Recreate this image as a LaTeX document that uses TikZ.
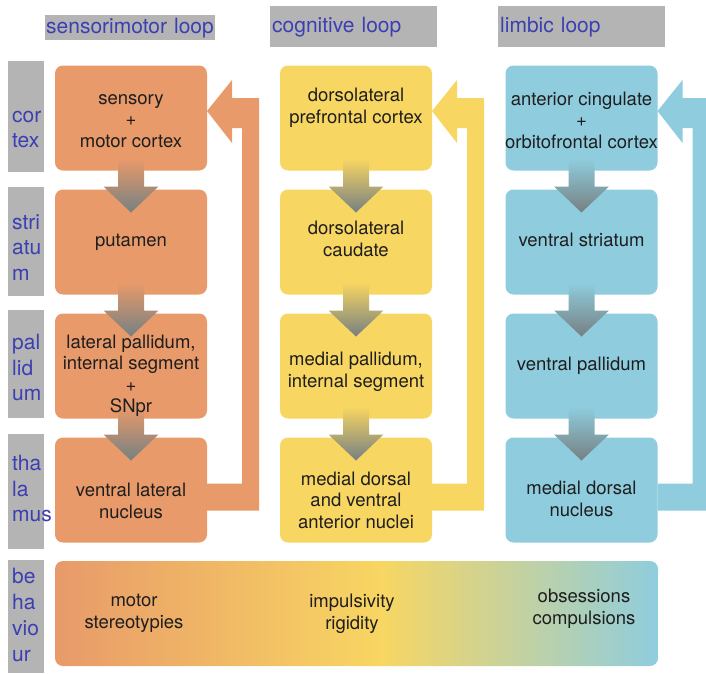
\documentclass[tikz,border=0pt]{standalone}
\usepackage{fontspec}
\setmainfont{TeX Gyre Heros}
\usetikzlibrary{positioning}

\definecolor{smcol}{HTML}{E89A6A}
\definecolor{cgcol}{HTML}{F8D662}
\definecolor{lbcol}{HTML}{8FCDDE}
\definecolor{barcol}{HTML}{B4B4B4}
\definecolor{labcol}{HTML}{3B3FB2}
\definecolor{arrcol}{HTML}{768082}
\definecolor{txtcol}{HTML}{1E1E1E}

\pgfdeclarehorizontalshading{behav}{100bp}{color(0bp)=(smcol); color(25bp)=(smcol); color(52bp)=(cgcol); color(75bp)=(lbcol); color(100bp)=(lbcol)}

% grey step arrow from one box down to the next
\newcommand{\stepdown}[3]{%
  \shade[top color=#3, bottom color=arrcol] ([xshift=-13pt,yshift=12pt]#1.south) -- ([xshift=13pt,yshift=12pt]#1.south)
    -- ([xshift=13pt,yshift=3pt]#2.north) -- ([xshift=27.5pt,yshift=3pt]#2.north) -- ([yshift=-23pt]#2.north)
    -- ([xshift=-27.5pt,yshift=3pt]#2.north) -- ([xshift=-13pt,yshift=3pt]#2.north) -- cycle;}
% broad arrow from thalamus back up to cortex
\newcommand{\loopback}[3]{%
  \fill[#3] ([yshift=7pt]#1.east) -- ++(25,-31) -- ++(0,18) -- ++(27,0)
    |- ([yshift=-20.5pt]#2.east) -- ++(0,-27) -- ++(35,0)
    |- ([xshift=25pt,yshift=-10pt]#1.east) -- ++(0,15) -- cycle;}

\begin{document}
\begin{tikzpicture}[x=1pt, y=-1pt,
      box/.style={rectangle, rounded corners=8pt, minimum width=152pt, minimum height=105pt, inner sep=0pt, outer sep=0pt},
      txt/.style={text=txtcol, font=\fontsize{18.5}{21.5}\selectfont, align=center},
      bar/.style={fill=barcol, anchor=north west, minimum width=36pt, inner sep=0pt, outer sep=0pt},
      lab/.style={text=labcol, font=\fontsize{21}{25.7}\selectfont, align=left, anchor=west, inner sep=0pt},
      head/.style={fill=barcol, text=labcol, font=\fontsize{21}{25}\selectfont, align=left, anchor=north west, inner xsep=2pt, inner ysep=0pt}]

\useasboundingbox (0,0) rectangle (706,673);

% headers
\node[head, text width=168pt, inner xsep=1pt, minimum height=25pt] (hsm) at (45,15) {sensorimotor loop};
\node[head, text width=163pt, minimum height=41pt] (hcg) at (270,6) {cognitive loop};
\node[head, text width=163pt, minimum height=41pt] (hlb) at (498,6) {\raisebox{-3pt}{limbic loop}};

% row labels
\node[bar, minimum height=111pt] (bctx) at (8,61) {};
\node[bar, minimum height=109pt] (bstr) at (8,187) {};
\node[bar, minimum height=108pt] (bpal) at (8,310) {};
\node[bar, minimum height=115pt] (btha) at (8,434) {};
\node[bar, minimum height=113pt] (bbeh) at (8,560) {};
\node[lab] (lctx) at (12,129.5) {cor\\tex};
\node[lab] (lstr) at (12,247.5) {stri\\atu\\m};
\node[lab] (lpal) at (12,367.5) {pal\\lid\\um};
\node[lab] (ltha) at (12,488.5) {tha\\la\\mus};
\node[lab] (lbeh) at (12,615) {be\\ha\\vio\\ur};

% boxes
\node[box, fill=smcol] (sm1) at (131,118) {};
\node[box, fill=smcol, below=19pt of sm1] (sm2) {};
\node[box, fill=smcol, below=19pt of sm2] (sm3) {};
\node[box, fill=smcol, below=19pt of sm3] (sm4) {};
\node[box, fill=cgcol] (cg1) at (356,118) {};
\node[box, fill=cgcol, below=19pt of cg1] (cg2) {};
\node[box, fill=cgcol, below=19pt of cg2] (cg3) {};
\node[box, fill=cgcol, below=19pt of cg3] (cg4) {};
\node[box, fill=lbcol] (lb1) at (581.5,118) {};
\node[box, fill=lbcol, below=19pt of lb1] (lb2) {};
\node[box, fill=lbcol, below=19pt of lb2] (lb3) {};
\node[box, fill=lbcol, below=19pt of lb3] (lb4) {};
\node[box, minimum width=603pt, shading=behav] (beh) at (356.5,613.5) {};

% loops back to cortex
\loopback{sm1}{sm4}{smcol}
\loopback{cg1}{cg4}{cgcol}
\loopback{lb1}{lb4}{lbcol}

% arrows down the loops
\stepdown{sm1}{sm2}{smcol}
\stepdown{sm2}{sm3}{smcol}
\stepdown{sm3}{sm4}{smcol}
\stepdown{cg1}{cg2}{cgcol}
\stepdown{cg2}{cg3}{cgcol}
\stepdown{cg3}{cg4}{cgcol}
\stepdown{lb1}{lb2}{lbcol}
\stepdown{lb2}{lb3}{lbcol}
\stepdown{lb3}{lb4}{lbcol}

% box texts
\node[txt, yshift=-3pt] (tsm1) at (sm1) {sensory\\+\\motor cortex};
\node[txt] (tsm2) at (sm2) {putamen};
\node[txt, yshift=-10pt] (tsm3) at (sm3) {lateral pallidum,\\internal segment\\+\\SNpr};
\node[txt, yshift=-11pt] (tsm4) at (sm4) {ventral lateral\\nucleus};
\node[txt, yshift=10pt] (tcg1) at (cg1) {dorsolateral\\prefrontal cortex};
\node[txt, yshift=3pt] (tcg2) at (cg2) {dorsolateral\\caudate};
\node[txt, yshift=-6pt] (tcg3) at (cg3) {medial pallidum,\\internal segment};
\node[txt, yshift=-10pt] (tcg4) at (cg4) {medial dorsal\\and ventral\\anterior nuclei};
\node[txt, yshift=-2pt] (tlb1) at (lb1) {anterior cingulate\\+\\orbitofrontal cortex};
\node[txt, yshift=2pt] (tlb2) at (lb2) {ventral striatum};
\node[txt] (tlb3) at (lb3) {ventral pallidum};
\node[txt, yshift=-9pt] (tlb4) at (lb4) {medial dorsal\\nucleus};

% behaviour
\node[txt] (bsm) at (134,613.5) {motor\\stereotypies};
\node[txt] (bcg) at (352,614) {impulsivity\\rigidity};
\node[txt] (blb) at (584,609) {obsessions\\compulsions};

\end{tikzpicture}
\end{document}
